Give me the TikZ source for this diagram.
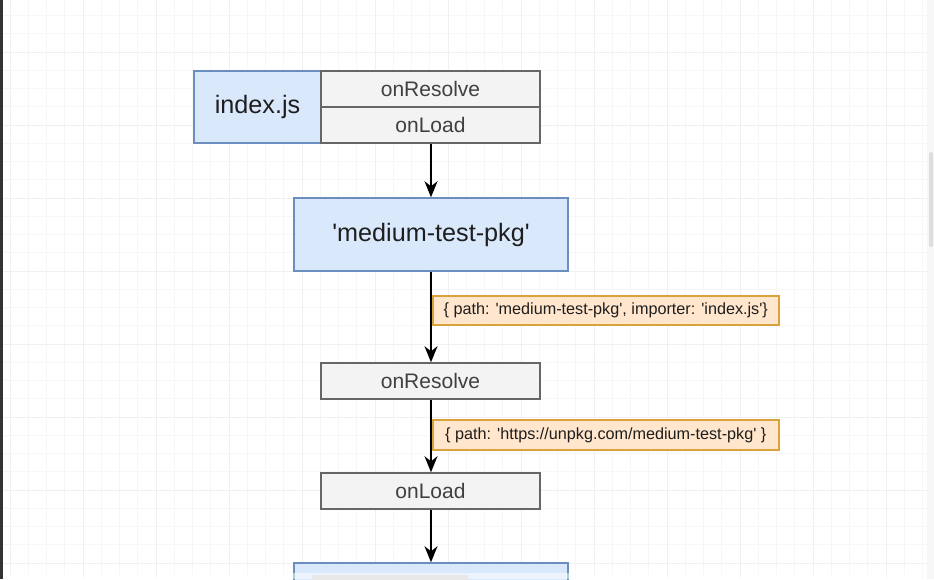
\documentclass[tikz,border=0pt]{standalone}
\usepackage{fontspec}
\setmainfont{Liberation Sans}
\usepackage{xcolor}
\usetikzlibrary{arrows.meta, positioning}
\definecolor{jsfill}{HTML}{DAE8FC}
\definecolor{jsline}{HTML}{6C8EBF}
\definecolor{hookfill}{HTML}{F3F3F3}
\definecolor{hookline}{HTML}{666666}
\definecolor{infofill}{HTML}{FFE6CC}
\definecolor{infoline}{HTML}{D7A33A}
\definecolor{txt}{HTML}{1E1E1E}
\newcommand{\sq}{\textquotesingle}
\tikzset{
    jsbox/.style={rectangle, draw=jsline, fill=jsfill, line width=1.5pt, text=txt, font=\fontsize{25.2}{29}\selectfont},
    hookbox/.style={rectangle, draw=hookline, fill=hookfill, line width=1.5pt, minimum width=219pt, minimum height=36pt, text=txt!85, font=\fontsize{21}{25}\selectfont},
    infobox/.style={rectangle, draw=infoline, fill=infofill, line width=1.5pt, minimum width=346pt, minimum height=29pt, text=txt, font=\fontsize{16.2}{19}\selectfont, anchor=west},
    arrow/.style={-{Stealth[length=16pt, width=13pt, inset=5pt]}, line width=2pt, black},
    gridmin/.style={draw=black!3, line width=0.6pt},
    gridmaj/.style={draw=black!6, line width=1pt}
}

\begin{document}
\begin{tikzpicture}[x=1pt, y=-1pt]
    \useasboundingbox (0,0) rectangle (934,579);
    \clip (0,0) rectangle (934,579);

    % Grid
    \foreach \i in {-4,...,51} {
        \draw[gridmin] ({83+18.25*\i},0) -- ({83+18.25*\i},579);
    }
    \foreach \i in {-10,...,21} {
        \draw[gridmin] (0,{198+18.25*\i}) -- (934,{198+18.25*\i});
    }
    \foreach \i in {-1,...,12} {
        \draw[gridmaj] ({83+73*\i},0) -- ({83+73*\i},579);
    }
    \foreach \i in {-2,...,5} {
        \draw[gridmaj] (0,{198+73*\i}) -- (934,{198+73*\i});
    }

    % Entry file with its hooks
    \node[jsbox, minimum width=127pt, minimum height=72pt] (index) at (257.5,107) {index.js};
    \node[hookbox] (resolveA) at (430.5,89) {onResolve};
    \node[hookbox] (loadA) at (430.5,125) {onLoad};

    % Imported package
    \node[jsbox, minimum width=274pt, minimum height=73pt] (pkg) at (431,234.5) {\sq medium-test-pkg\sq};

    % Plugin hooks
    \node[hookbox] (resolveB) at (430.5,381) {onResolve};
    \node[hookbox] (loadB) at (430.5,491) {onLoad};

    % Next file (cut off)
    \node[jsbox, minimum width=274pt, minimum height=73pt] (next) at (431,599.5) {};

    % Connections
    \draw[arrow] (loadA.south -| pkg.north) -- (pkg.north);
    \draw[arrow] (pkg.south) -- (resolveB.north -| pkg.south);
    \draw[arrow] (resolveB.south -| pkg.south) -- (loadB.north -| pkg.south);
    \draw[arrow] (loadB.south -| pkg.south) -- (next.north);

    % Arguments passed along
    \node[infobox] (argsA) at (432,310.5) {\{ path: \sq medium-test-pkg\sq, importer: \sq index.js\sq\}};
    \node[infobox, minimum height=30pt] (argsB) at (432,435) {\{ path: \sq https://unpkg.com/medium-test-pkg\sq{} \}};

    % Editor chrome
    \fill[white, opacity=0.5] (0,573) rectangle (934,579);
    \fill[black!9, rounded corners=2pt] (312,575) rectangle (468,581);
    \fill[black!3] (927,0) rectangle (934,579);
    \fill[black!13, rounded corners=2pt] (929,152) rectangle (933,247);
    \fill[black!80] (0,0) rectangle (2.5,579);
\end{tikzpicture}
\end{document}
